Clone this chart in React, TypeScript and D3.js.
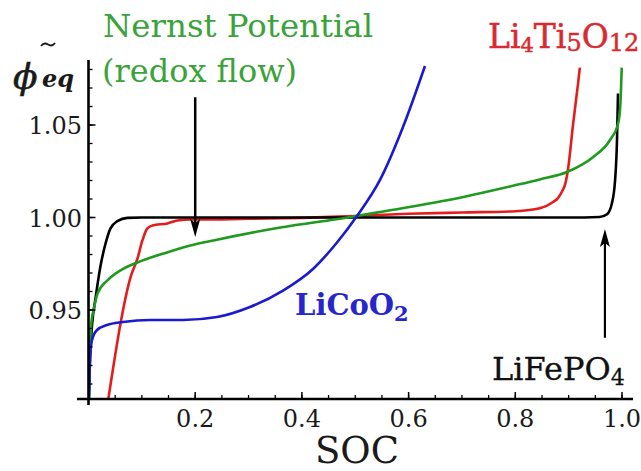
import React from "react";
import * as d3 from "d3";

// ---- data ----
const blackX = [0.0005, 0.003, 0.007, 0.013, 0.022, 0.032, 0.041, 0.054, 0.073, 0.1, 0.3, 0.5, 0.7, 0.9, 0.958, 0.972, 0.981, 0.987, 0.9906, 0.9925];
const blackY = [0.9, 0.925, 0.943, 0.956, 0.973, 0.986, 0.994, 0.998, 0.9998, 1.0, 1.0, 1.0, 1.0, 1.0, 1.0003, 1.0018, 1.0076, 1.02, 1.0416, 1.067];

const redX = [0.035, 0.048, 0.06, 0.0787, 0.092, 0.101, 0.11, 0.12, 0.148, 0.167, 0.191, 0.25, 0.3, 0.4, 0.5, 0.6, 0.7, 0.8, 0.846, 0.871, 0.88, 0.888, 0.894, 0.899, 0.908, 0.9176, 0.921];
const redY = [0.898, 0.922, 0.9427, 0.9676, 0.978, 0.9876, 0.994, 0.9957, 0.9968, 0.9984, 0.9989, 0.999, 0.9993, 0.9998, 1.0008, 1.002, 1.0027, 1.0034, 1.005, 1.0084, 1.0105, 1.0143, 1.0186, 1.0265, 1.0497, 1.0724, 1.081];

const greenX = [0.0003, 0.002, 0.0056, 0.0094, 0.0169, 0.0356, 0.06, 0.0918, 0.1404, 0.191, 0.234, 0.3596, 0.485, 0.547, 0.672, 0.796, 0.846, 0.897, 0.946, 0.9775, 0.993, 0.997, 0.9995];
const greenY = [0.9, 0.9227, 0.944, 0.9497, 0.9589, 0.966, 0.9714, 0.9757, 0.9805, 0.9849, 0.9876, 0.9946, 1.0, 1.003, 1.0093, 1.0172, 1.0206, 1.0246, 1.0327, 1.0419, 1.0511, 1.0615, 1.081];

const blueX = [0.001, 0.0028, 0.0066, 0.0159, 0.0347, 0.0647, 0.1153, 0.1771, 0.2409, 0.3027, 0.3646, 0.4208, 0.4658, 0.5033, 0.5464, 0.5895, 0.6307];
const blueY = [0.9019, 0.923, 0.9338, 0.9392, 0.9419, 0.9435, 0.9446, 0.9446, 0.9462, 0.9516, 0.9605, 0.9722, 0.9865, 1.0008, 1.0203, 1.0489, 1.0819];

const xMajor = [0.2, 0.4, 0.6, 0.8, 1.0];
const xMajorLabels = ["0.2", "0.4", "0.6", "0.8", "1.0"];
const xMinor = d3.range(1, 21).map((i) => i * 0.05);
const yMajor = [0.95, 1.0, 1.05];
const yMajorLabels = ["0.95", "1.00", "1.05"];
const yMinor = d3.range(91, 109).map((i) => i / 100);

// arrows in data units: [x, from, to(tip)]
const nernstArrow = [0.2, 1.065, 0.9895];
const lfpArrow = [0.968, 0.935, 0.9938];

const colors = { black: "#000000", red: "#e41c1c", green: "#1e9a1e", blue: "#1a1ad0" };

export default function App() {
  const W = 641, H = 471;
  const x = d3.scaleLinear().domain([0, 1]).range([88.5, 622]);
  const y = d3.scaleLinear().domain([0.95, 1.05]).range([310, 125]);
  const axisY = 399;
  const axisX = x(0);
  const topY = 60;

  const line = d3
    .line<[number, number]>()
    .x((d) => x(d[0]))
    .y((d) => y(d[1]))
    .curve(d3.curveMonotoneX);

  const series = [
    { xs: redX, ys: redY, c: colors.red },
    { xs: blackX, ys: blackY, c: colors.black },
    { xs: greenX, ys: greenY, c: colors.green },
    { xs: blueX, ys: blueY, c: colors.blue },
  ];

  const font = "'DejaVu Serif', serif";

  const arrowDown = (a: number[]) => {
    const ax = x(a[0]);
    const y0 = y(a[1]);
    const tip = y(a[2]);
    return (
      <g>
        <line x1={ax} x2={ax} y1={y0} y2={tip - 12} stroke="#000" strokeWidth={2.5} />
        <polygon points={`${ax},${tip} ${ax - 5},${tip - 18} ${ax},${tip - 14} ${ax + 5},${tip - 18}`} fill="#000" />
      </g>
    );
  };
  const arrowUp = (a: number[]) => {
    const ax = x(a[0]);
    const y0 = y(a[1]);
    const tip = y(a[2]);
    return (
      <g>
        <line x1={ax} x2={ax} y1={y0} y2={tip + 12} stroke="#000" strokeWidth={2.2} />
        <polygon points={`${ax},${tip} ${ax - 5},${tip + 18} ${ax},${tip + 14} ${ax + 5},${tip + 18}`} fill="#000" />
      </g>
    );
  };

  return (
    <svg width={W} height={H} style={{ position: "absolute", left: 0, top: 0, background: "#fff" }}>
      <defs>
        <clipPath id="plot">
          <rect x={axisX} y={topY} width={W - axisX} height={axisY - topY} />
        </clipPath>
      </defs>
      <rect width={W} height={H} fill="#fff" />

      {/* curves */}
      <g clipPath="url(#plot)">
        {series.map((s, i) => (
          <path
            key={i}
            d={line(s.xs.map((v, j) => [v, s.ys[j]] as [number, number])) || ""}
            fill="none"
            stroke={s.c}
            strokeWidth={2.6}
            strokeLinejoin="round"
          />
        ))}
      </g>

      {/* axes */}
      <line x1={77} x2={633} y1={axisY} y2={axisY} stroke="#000" strokeWidth={2.6} />
      <line x1={axisX} x2={axisX} y1={topY} y2={405} stroke="#000" strokeWidth={2.6} />

      {xMinor.map((t, i) => (
        <line key={"xm" + i} x1={x(t)} x2={x(t)} y1={axisY} y2={axisY - 4} stroke="#000" strokeWidth={1.3} />
      ))}
      {xMajor.map((t, i) => (
        <line key={"xM" + i} x1={x(t)} x2={x(t)} y1={axisY} y2={axisY - 7} stroke="#000" strokeWidth={1.5} />
      ))}
      {yMinor.map((t, i) => (
        <line key={"ym" + i} x1={axisX} x2={axisX + 4} y1={y(t)} y2={y(t)} stroke="#000" strokeWidth={1.3} />
      ))}
      {yMajor.map((t, i) => (
        <line key={"yM" + i} x1={axisX} x2={axisX + 7} y1={y(t)} y2={y(t)} stroke="#000" strokeWidth={1.5} />
      ))}

      {xMajor.map((t, i) => (
        <text key={"xl" + i} x={x(t)} y={427} textAnchor="middle" fontFamily={font} fontSize={24} fill="#1a1a1a">
          {xMajorLabels[i]}
        </text>
      ))}
      {yMajor.map((t, i) => (
        <text key={"yl" + i} x={82} y={y(t) + 9} textAnchor="end" fontFamily={font} fontSize={24} fill="#1a1a1a">
          {yMajorLabels[i]}
        </text>
      ))}

      {/* axis titles */}
      <text x={357} y={463} textAnchor="middle" fontFamily={font} fontSize={37} fill="#1a1a1a">
        SOC
      </text>
      <text x={13} y={89} fontFamily={font} fontStyle="italic" fontSize={36} fill="#1a1a1a" stroke="#1a1a1a" strokeWidth={0.6}>
        ϕ
      </text>
      <text x={42} y={87} fontFamily={font} fontStyle="italic" fontWeight="bold" fontSize={24} fill="#1a1a1a">
        eq
      </text>
      <path d="M41,46 q3,-4 7,-1.5 t7,-1.5" fill="none" stroke="#1a1a1a" strokeWidth={1.8} />

      {/* annotations */}
      <text x={103} y={37} fontFamily={font} fontSize={32} fill="#3aa33a" textLength={270} lengthAdjust="spacingAndGlyphs">
        Nernst Potential
      </text>
      <text x={102} y={82} fontFamily={font} fontSize={32} fill="#3aa33a" textLength={195} lengthAdjust="spacingAndGlyphs">
        (redox flow)
      </text>
      {arrowDown(nernstArrow)}

      <text x={488} y={48} fontFamily={font} fontSize={33} fill="#d82a30" stroke="#d82a30" strokeWidth={0.5}>
        Li
        <tspan fontSize={21} dy={4}>4</tspan>
        <tspan dy={-4}>Ti</tspan>
        <tspan fontSize={24} dy={3}>5</tspan>
        <tspan dy={-3}>O</tspan>
        <tspan fontSize={24} dy={3}>12</tspan>
      </text>

      <text x={295} y={315} fontFamily={font} fontWeight="bold" fontSize={29} fill="#2626cc">
        LiCoO
        <tspan fontSize={21} dy={6}>2</tspan>
      </text>

      <text x={492} y={380} fontFamily={font} fontSize={32} fill="#111" stroke="#111" strokeWidth={0.3}>
        LiFePO
        <tspan fontSize={22} dy={5}>4</tspan>
      </text>
      {arrowUp(lfpArrow)}
    </svg>
  );
}
